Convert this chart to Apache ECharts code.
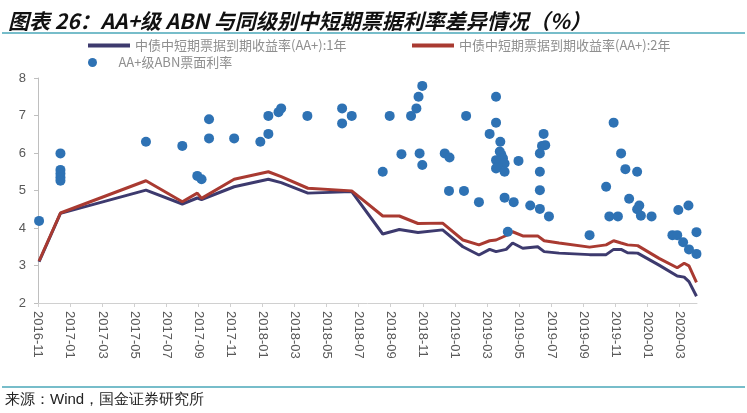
<!DOCTYPE html>
<html>
<head>
<meta charset="utf-8">
<script src="https://cdn.jsdelivr.net/npm/echarts@6/dist/echarts.min.js"></script>
<style>
html,body{margin:0;padding:0;background:#fff;}
#c{width:747px;height:413px;}
</style>
</head>
<body>
<div id="c"></div>
<script>
// ---- data ----
const tickLabels = ['2016-11','2017-01','2017-03','2017-05','2017-07','2017-09','2017-11','2018-01','2018-03','2018-05','2018-07','2018-09','2018-11','2019-01','2019-03','2019-05','2019-07','2019-09','2019-11','2020-01','2020-03'];

const lineDates = ['2016-11-03','2016-12-13','2017-05-23','2017-08-01','2017-08-29','2017-09-07','2017-11-08','2018-01-12','2018-02-06','2018-03-26','2018-06-18','2018-08-16','2018-09-17','2018-10-22','2018-12-08','2019-01-16','2019-02-16','2019-03-06','2019-03-18','2019-04-07','2019-04-19','2019-05-08','2019-06-06','2019-06-18','2019-07-16','2019-09-13','2019-10-14','2019-10-28','2019-11-12','2019-11-24','2019-12-13','2020-01-23','2020-02-27','2020-03-10','2020-03-19','2020-04-03'];
const yield1Y = [3.10,4.39,5.01,4.64,4.80,4.76,5.10,5.30,5.21,4.93,4.97,3.84,3.96,3.88,3.95,3.50,3.28,3.43,3.37,3.43,3.60,3.46,3.50,3.37,3.33,3.29,3.29,3.43,3.43,3.34,3.33,3.01,2.72,2.69,2.57,2.18];
const yield2Y = [3.12,4.40,5.26,4.70,4.93,4.79,5.30,5.50,5.37,5.06,4.99,4.32,4.32,4.12,4.13,3.68,3.55,3.66,3.68,3.80,3.90,3.79,3.79,3.66,3.60,3.49,3.55,3.66,3.60,3.55,3.53,3.19,2.94,3.06,2.99,2.55];

const abnDates = ['2016-11-03','2016-12-13','2016-12-13','2016-12-13','2016-12-13','2016-12-13','2017-05-23','2017-08-01','2017-08-29','2017-09-07','2017-09-21','2017-09-21','2017-11-08','2017-12-27','2018-01-12','2018-01-12','2018-02-01','2018-02-06','2018-03-25','2018-05-30','2018-05-30','2018-06-18','2018-08-16','2018-08-29','2018-09-21','2018-10-09','2018-10-19','2018-10-23','2018-10-30','2018-10-25','2018-10-30','2018-12-12','2018-12-21','2018-12-20','2019-01-18','2019-01-22','2019-02-16','2019-03-06','2019-03-18','2019-03-18','2019-03-26','2019-03-25','2019-03-28','2019-03-31','2019-03-18','2019-04-04','2019-03-21','2019-03-18','2019-04-04','2019-04-30','2019-04-04','2019-04-21','2019-04-10','2019-05-22','2019-06-10','2019-06-27','2019-06-10','2019-06-10','2019-06-10','2019-06-14','2019-06-20','2019-06-17','2019-09-13','2019-10-14','2019-10-28','2019-11-12','2019-11-20','2019-12-12','2019-10-20','2019-11-06','2019-11-27','2019-12-16','2019-12-12','2019-12-19','2020-01-09','2020-02-18','2020-02-27','2020-02-29','2020-03-18','2020-03-08','2020-03-19','2020-04-03','2020-04-03'];
const abnRates = [4.19,5.99,5.55,5.45,5.35,5.26,6.30,6.19,5.39,5.30,6.90,6.39,6.39,6.30,6.51,6.99,7.09,7.19,6.99,7.19,6.79,6.99,5.50,6.99,5.97,6.99,7.19,7.50,7.79,5.99,5.68,5.99,5.88,4.99,4.99,6.99,4.69,6.51,7.50,6.81,6.30,6.04,5.95,5.86,5.81,5.72,5.63,5.59,5.50,5.79,4.81,4.69,3.90,4.60,4.51,4.31,5.01,5.50,5.99,6.19,6.21,6.51,3.81,5.10,6.81,5.99,5.57,5.50,4.31,4.31,4.78,4.60,4.50,4.33,4.31,3.81,3.81,4.48,4.60,3.62,3.43,3.31,3.89];

const seriesNames = ['中债中短期票据到期收益率(AA+):1年','中债中短期票据到期收益率(AA+):2年','AA+级ABN票面利率'];

// month index since 2016-11
function toIdx(s){const p=s.split('-').map(Number);return (p[0]-2016)*12+(p[1]-11)+(p[2]-1)/30;}
const pairs=(ds,vs)=>ds.map((d,i)=>[toIdx(d),vs[i]]);

const chart = echarts.init(document.getElementById('c'), null, {renderer:'canvas'});
const FONT = '"Noto Sans CJK SC", "Liberation Sans", sans-serif';
const legendText = {fontSize:13,color:'#8f8f8f',fontFamily:FONT};
const tickVals = tickLabels.map((t,i)=>i*2);
chart.setOption({
  backgroundColor:'#fff',
  animation:false,
  title:{text:'图表 26：AA+级 ABN 与同级别中短期票据利率差异情况（%）',left:3,top:6,
    textStyle:{fontSize:21,fontWeight:'bold',fontStyle:'italic',color:'#111',fontFamily:FONT}},
  legend:[
    {data:[seriesNames[0]],left:88,top:39,padding:0,itemWidth:42,itemHeight:4,icon:'rect',itemGap:0,textStyle:legendText,selectedMode:false},
    {data:[seriesNames[1]],left:412,top:39,padding:0,itemWidth:42,itemHeight:4,icon:'rect',itemGap:0,textStyle:legendText,selectedMode:false},
    {data:[seriesNames[2]],left:88,top:56,padding:0,itemWidth:42,itemHeight:9,icon:'circle',itemGap:0,textStyle:legendText,selectedMode:false}
  ],
  grid:{left:38,right:50,top:78,bottom:110,containLabel:false},
  xAxis:{type:'value',min:0,max:41.1,interval:2,
    axisLine:{show:true,lineStyle:{color:'#d0d0d0',width:1}},
    axisTick:{show:true,length:4,lineStyle:{color:'#d0d0d0'},customValues:tickVals},
    splitLine:{show:false},
    axisLabel:{rotate:-90,color:'#595959',fontSize:13,fontFamily:'"Liberation Sans", Arial, sans-serif',margin:8,
      customValues:tickVals,
      formatter:v=>tickLabels[Math.round(v/2)]||''}},
  yAxis:{type:'value',min:2,max:8,interval:1,
    axisLine:{show:true,lineStyle:{color:'#bfbfbf',width:1}},
    axisTick:{show:true,length:4,lineStyle:{color:'#bfbfbf'}},
    splitLine:{show:false},
    axisLabel:{color:'#595959',fontSize:13,fontFamily:'"Liberation Sans", Arial, sans-serif',margin:12}},
  graphic:[
    {type:'line',shape:{x1:2,y1:33,x2:745,y2:33},style:{stroke:'#4aa7b8',lineWidth:1.5},silent:true},
    {type:'line',shape:{x1:2,y1:387,x2:745,y2:387},style:{stroke:'#4aa7b8',lineWidth:1.5},silent:true},
    {type:'text',left:5,top:392,style:{text:'来源：Wind，国金证券研究所',fontSize:15,fill:'#222',font:'15px '+FONT}}
  ],
  series:[
    {name:seriesNames[0],type:'line',data:pairs(lineDates,yield1Y),showSymbol:false,symbol:'none',
      lineStyle:{color:'#3d3a6e',width:3},itemStyle:{color:'#3d3a6e'},z:2},
    {name:seriesNames[1],type:'line',data:pairs(lineDates,yield2Y),showSymbol:false,symbol:'none',
      lineStyle:{color:'#a93a31',width:3},itemStyle:{color:'#a93a31'},z:3},
    {name:seriesNames[2],type:'scatter',data:pairs(abnDates,abnRates),symbolSize:10,
      itemStyle:{color:'#2e72b4',opacity:1},z:4}
  ]
});
</script>
</body>
</html>
